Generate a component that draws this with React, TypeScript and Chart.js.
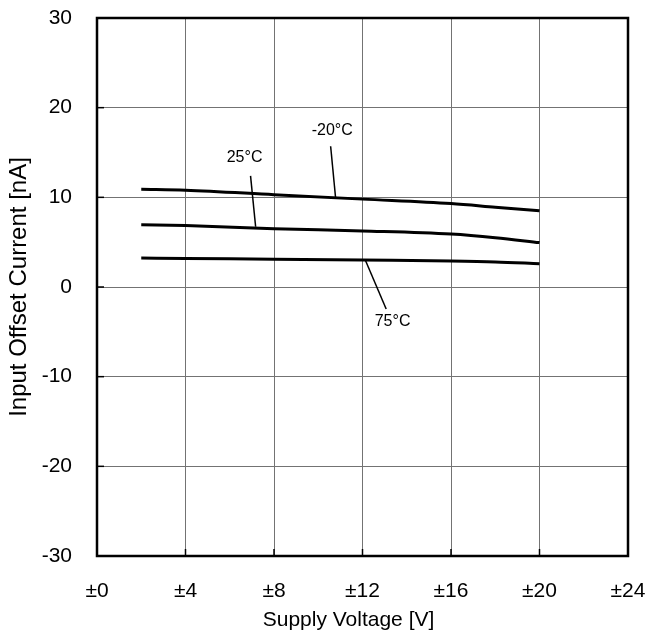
import React, { useEffect, useRef } from "react";
import { Chart, registerables } from "chart.js";

Chart.register(...registerables);

// ---- data ----
const voltage = [2, 4, 8, 12, 16, 18, 20];
const offsetMinus20 = [10.9, 10.8, 10.3, 9.8, 9.3, 8.9, 8.5];
const offset25 = [6.95, 6.85, 6.5, 6.25, 5.9, 5.5, 4.95];
const offset75 = [3.23, 3.18, 3.1, 3.0, 2.9, 2.8, 2.6];

const xTickValues = [0, 4, 8, 12, 16, 20, 24];
const xTickLabels = ["±0", "±4", "±8", "±12", "±16", "±20", "±24"];
const yTickValues = [-30, -20, -10, 0, 10, 20, 30];

const xTitle = "Supply Voltage [V]";
const yTitle = "Input Offset Current [nA]";

const seriesNames = ["-20°C", "25°C", "75°C"];
// label anchor (data units) and leader line start/end (data units)
const labelX = [10.63, 6.67, 13.36];
const labelY = [17.4, 14.4, -3.9];
const leaderFromX = [10.56, 6.94, 12.14];
const leaderFromY = [15.7, 12.4, 2.93];
const leaderToX = [10.78, 7.17, 13.07];
const leaderToY = [10.04, 6.72, -2.45];

const FONT = "'Liberation Sans', Arial, sans-serif";

const framePlugin = {
  id: "frameAndLabels",
  afterDatasetsDraw(chart: any) {
    const { ctx, chartArea, scales } = chart;
    const xs = scales.x;
    const ys = scales.y;
    ctx.save();
    // inner tick marks
    ctx.strokeStyle = "#000";
    ctx.lineWidth = 1.5;
    for (const v of yTickValues) {
      const py = ys.getPixelForValue(v);
      ctx.beginPath();
      ctx.moveTo(chartArea.left, py);
      ctx.lineTo(chartArea.left + 7, py);
      ctx.stroke();
    }
    for (const v of xTickValues) {
      const px = xs.getPixelForValue(v);
      ctx.beginPath();
      ctx.moveTo(px, chartArea.bottom);
      ctx.lineTo(px, chartArea.bottom - 7);
      ctx.stroke();
    }
    // frame
    ctx.lineWidth = 2.5;
    ctx.strokeRect(
      chartArea.left,
      chartArea.top,
      chartArea.right - chartArea.left,
      chartArea.bottom - chartArea.top
    );
    // annotations
    ctx.lineWidth = 1.5;
    ctx.fillStyle = "#000";
    ctx.font = `16px ${FONT}`;
    ctx.textAlign = "center";
    ctx.textBaseline = "middle";
    seriesNames.forEach((name, i) => {
      ctx.beginPath();
      ctx.moveTo(xs.getPixelForValue(leaderFromX[i]), ys.getPixelForValue(leaderFromY[i]));
      ctx.lineTo(xs.getPixelForValue(leaderToX[i]), ys.getPixelForValue(leaderToY[i]));
      ctx.stroke();
      ctx.fillText(name, xs.getPixelForValue(labelX[i]), ys.getPixelForValue(labelY[i]));
    });
    // x axis title (sits slightly left of the plot centre in the original)
    ctx.font = `21px ${FONT}`;
    ctx.fillText(xTitle, (chartArea.left + chartArea.right) / 2 - 14, chart.height - 15);
    ctx.restore();
  },
};

export default function App() {
  const ref = useRef<HTMLCanvasElement>(null);
  useEffect(() => {
    document.body.style.margin = "0";
    const mk = (data: number[]) => ({
      data: voltage.map((v, i) => ({ x: v, y: data[i] })),
      borderColor: "#000",
      backgroundColor: "#000",
      borderWidth: 3,
      pointRadius: 0,
      tension: 0.3,
      cubicInterpolationMode: "monotone" as const,
      fill: false,
    });
    const chart = new Chart(ref.current!, {
      type: "line",
      data: {
        datasets: [mk(offsetMinus20), mk(offset25), mk(offset75)],
      },
      options: {
        animation: false,
        responsive: false,
        devicePixelRatio: 1,
        layout: { padding: { top: 18, right: 21, left: 0, bottom: 0 } },
        plugins: { legend: { display: false }, tooltip: { enabled: false } },
        scales: {
          x: {
            type: "linear",
            min: 0,
            max: 24,
            afterBuildTicks: (s: any) => {
              s.ticks = xTickValues.map((v) => ({ value: v }));
            },
            afterFit: (s: any) => {
              s.height = 79;
              s.paddingLeft = 0;
              s.paddingRight = 0;
            },
            ticks: {
              color: "#000",
              font: { family: FONT, size: 21 },
              padding: 23,
              maxRotation: 0,
              callback: (v: any) => xTickLabels[xTickValues.indexOf(Number(v))] ?? "",
            },
            grid: { color: "#737373", lineWidth: 1, drawTicks: false },
            border: { display: false },
            title: { display: false },
          },
          y: {
            type: "linear",
            min: -30,
            max: 30,
            afterBuildTicks: (s: any) => {
              s.ticks = yTickValues.map((v) => ({ value: v }));
            },
            afterFit: (s: any) => {
              s.width = 97;
              s.paddingTop = 0;
              s.paddingBottom = 0;
            },
            ticks: {
              color: "#000",
              font: { family: FONT, size: 21 },
              padding: 25,
            },
            grid: { color: "#737373", lineWidth: 1, drawTicks: false },
            border: { display: false },
            title: {
              display: true,
              text: yTitle,
              color: "#000",
              font: { family: FONT, size: 24 },
              padding: { top: 5, bottom: 0 },
            },
          },
        },
      },
      plugins: [framePlugin],
    });
    return () => chart.destroy();
  }, []);
  return (
    <div style={{ position: "absolute", left: 0, top: 0, width: 649, height: 635, background: "#fff" }}>
      <canvas ref={ref} width={649} height={635} style={{ width: 649, height: 635 }} />
    </div>
  );
}
